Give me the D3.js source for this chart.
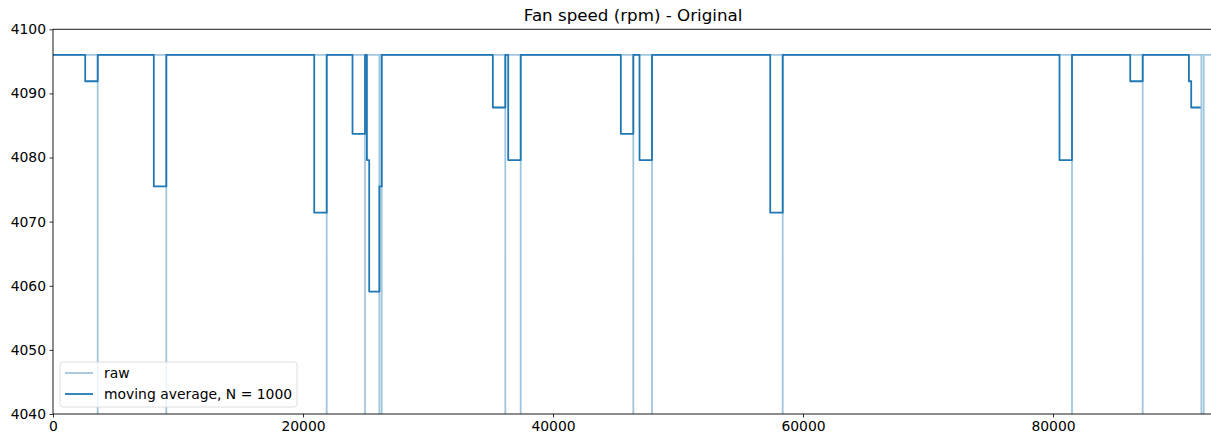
<!DOCTYPE html>
<html lang="en">
  <head>
    <meta charset="UTF-8" />
    <title>Fan speed (rpm) - Original</title>
    <script src="https://d3js.org/d3.v7.min.js"></script>
    <style>
      * {
        margin: 0;
        padding: 0;
      }
      body {
        background: #ffffff;
        font-family: "DejaVu Sans", sans-serif;
      }
      .axis text {
        font-size: 13.9px;
        fill: #000;
        font-family: "DejaVu Sans", sans-serif;
      }
      .axis path,
      .axis line {
        stroke: #000;
        stroke-width: 0.8px;
      }
      .title {
        font-size: 16.7px;
        fill: #000;
      }
      .legend-text {
        font-size: 13.9px;
        fill: #000;
      }
    </style>
  </head>

  <body>
    <div id="chart"></div>

    <script>
      // raw signal: steady speed, with single-sample drops to 0 at these sample indices
      const rawBase = 4096;
      const rawDropIdx = [
        3576, 9064, 21896, 24960, 26112, 26296, 36184, 37416, 46424, 47920,
        58376, 81520, 87176, 91872, 92056,
      ];
      const rawDropValue = 0;
      const rawLength = 92815;

      // moving average (N = 1000), step breakpoints
      const maX = [
        0, 2577, 3577, 8065, 9065, 20897, 21897, 23961, 24961, 25113, 25297,
        26113, 26297, 35185, 36185, 36417, 37417, 45425, 46425, 46921, 47921,
        57377, 58377, 80521, 81521, 86177, 87177, 90873, 91057, 91816,
      ];
      const maY = [
        4096, 4091.9, 4096, 4075.5, 4096, 4071.4, 4096, 4083.7, 4096, 4079.6,
        4059.1, 4075.5, 4096, 4087.8, 4096, 4079.6, 4096, 4083.7, 4096, 4079.6,
        4096, 4071.4, 4096, 4079.6, 4096, 4091.9, 4096, 4091.9, 4087.8, 4087.8,
      ];

      const xTicks = [0, 20000, 40000, 60000, 80000];
      const yTicks = [4040, 4050, 4060, 4070, 4080, 4090, 4100];

      const W = 1211,
        H = 440;
      const margin = { top: 29.3, left: 53, bottom: 26 };
      const plotRight = 53 + rawLength * 0.0125;

      const svg = d3
        .select("#chart")
        .append("svg")
        .attr("width", W)
        .attr("height", H);

      const x = d3.scaleLinear().domain([0, rawLength]).range([margin.left, plotRight]);
      const y = d3
        .scaleLinear()
        .domain([4040, 4100])
        .range([H - margin.bottom, margin.top]);

      svg
        .append("clipPath")
        .attr("id", "clip")
        .append("rect")
        .attr("x", margin.left)
        .attr("y", margin.top)
        .attr("width", plotRight - margin.left)
        .attr("height", y(4040) - y(4100));

      // build raw point list from base + drops
      const rawPts = [[0, rawBase]];
      rawDropIdx.forEach((i) => {
        rawPts.push([i - 1, rawBase], [i, rawDropValue], [i + 1, rawBase]);
      });
      rawPts.push([rawLength - 1, rawBase]);

      const maPts = maX.map((d, i) => [d, maY[i]]);

      const line = d3
        .line()
        .x((d) => x(d[0]))
        .y((d) => y(d[1]));

      const g = svg.append("g").attr("clip-path", "url(#clip)");

      g.append("path")
        .datum(rawPts)
        .attr("fill", "none")
        .attr("stroke", "#1f77b4")
        .attr("stroke-opacity", 0.42)
        .attr("stroke-width", 1.8)
        .attr("d", line);

      g.append("path")
        .datum(maPts)
        .attr("fill", "none")
        .attr("stroke", "#1f77b4")
        .attr("stroke-width", 1.8)
        .attr("stroke-linejoin", "round")
        .attr("d", line.curve(d3.curveStepAfter));

      // axes
      svg
        .append("g")
        .attr("class", "axis")
        .attr("transform", `translate(0, ${y(4040)})`)
        .call(
          d3.axisBottom(x).tickValues(xTicks).tickSize(3.5).tickPadding(3.5).tickFormat(d3.format("d"))
        )
        .call((s) => s.select(".domain").remove());

      svg
        .append("g")
        .attr("class", "axis")
        .attr("transform", `translate(${margin.left}, 0)`)
        .call(d3.axisLeft(y).tickValues(yTicks).tickSize(3.5).tickPadding(3.5).tickFormat(d3.format("d")))
        .call((s) => s.select(".domain").remove());

      // spines
      const spine = svg.append("g").attr("stroke", "#000").attr("stroke-width", 0.9);
      spine.append("line").attr("x1", margin.left).attr("x2", plotRight).attr("y1", y(4100)).attr("y2", y(4100));
      spine.append("line").attr("x1", margin.left).attr("x2", plotRight).attr("y1", y(4040)).attr("y2", y(4040));
      spine.append("line").attr("x1", margin.left).attr("x2", margin.left).attr("y1", y(4100)).attr("y2", y(4040));
      spine.append("line").attr("x1", plotRight).attr("x2", plotRight).attr("y1", y(4100)).attr("y2", y(4040));

      // title
      svg
        .append("text")
        .attr("class", "title")
        .attr("x", (margin.left + plotRight) / 2)
        .attr("y", 21)
        .attr("text-anchor", "middle")
        .text("Fan speed (rpm) - Original");

      // legend
      const lg = svg.append("g").attr("transform", "translate(60, 362)");
      lg.append("rect")
        .attr("width", 237)
        .attr("height", 45)
        .attr("rx", 3)
        .attr("fill", "#fff")
        .attr("fill-opacity", 0.8)
        .attr("stroke", "#d6d6d6")
        .attr("stroke-width", 0.8);

      const items = [
        { label: "raw", opacity: 0.42 },
        { label: "moving average, N = 1000", opacity: 1 },
      ];
      items.forEach((it, i) => {
        const yy = 11 + i * 21;
        lg.append("line")
          .attr("x1", 5)
          .attr("x2", 33)
          .attr("y1", yy)
          .attr("y2", yy)
          .attr("stroke", "#1f77b4")
          .attr("stroke-opacity", it.opacity)
          .attr("stroke-width", 1.8);
        lg.append("text")
          .attr("class", "legend-text")
          .attr("x", 44)
          .attr("y", yy + 5)
          .text(it.label);
      });
    </script>
  </body>
</html>
